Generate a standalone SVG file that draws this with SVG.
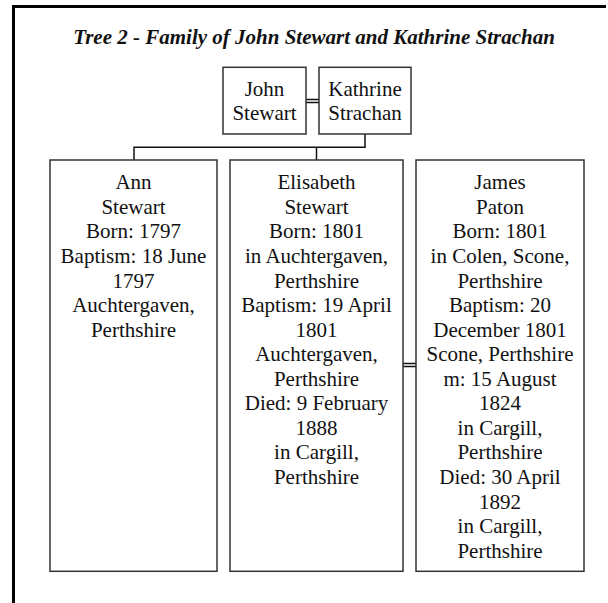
<svg xmlns="http://www.w3.org/2000/svg" width="608" height="603" viewBox="0 0 608 603">
<style>
.frame{fill:none;stroke:#000;stroke-width:3}
.box{fill:#fff;stroke:#333;stroke-width:1.5}
.ln{fill:none;stroke:#111;stroke-width:1.5}
.t{font-family:"Times New Roman",Times,Tinos,"Liberation Serif","Nimbus Roman","Nimbus Roman No9 L",FreeSerif,"Noto Serif","DejaVu Serif",serif;font-size:21px;fill:#111;text-anchor:middle}
.title{font-family:"Times New Roman",Times,Tinos,"Liberation Serif","Nimbus Roman","Nimbus Roman No9 L",FreeSerif,"Noto Serif","DejaVu Serif",serif;font-size:21px;font-weight:bold;font-style:italic;fill:#111;text-anchor:middle}
</style>
<rect width="608" height="603" fill="#fff"/>
<path class="frame" d="M13.5,603 V6.5 H606"/>
<text class="title" x="314" y="44">Tree 2 - Family of John Stewart and Kathrine Strachan</text>
<g id="connectors">
<path class="ln" d="M306,99.5 H319 M306,102.5 H319"/>
<path class="ln" d="M365,134 V147.3 H134 V160 M316.5,147.3 V160"/>
<path class="ln" d="M403,363.5 H416 M403,366.5 H416"/>
</g>
<g id="john">
<rect class="box" x="223" y="67.3" width="83" height="66.7"/>
<text class="t" x="264.5" y="96">John</text>
<text class="t" x="264.5" y="120">Stewart</text>
</g>
<g id="kathrine">
<rect class="box" x="319" y="67.3" width="92" height="66.7"/>
<text class="t" x="365" y="96">Kathrine</text>
<text class="t" x="365" y="120">Strachan</text>
</g>
<g id="ann">
<rect class="box" x="50" y="160" width="167" height="411.3"/>
<text class="t" x="133.5" y="189.3">Ann</text>
<text class="t" x="133.5" y="213.8">Stewart</text>
<text class="t" x="133.5" y="238.4">Born: 1797</text>
<text class="t" x="133.5" y="262.9">Baptism: 18 June</text>
<text class="t" x="133.5" y="287.5">1797</text>
<text class="t" x="133.5" y="312">Auchtergaven,</text>
<text class="t" x="133.5" y="336.6">Perthshire</text>
</g>
<g id="elisabeth">
<rect class="box" x="230" y="160" width="173" height="411.3"/>
<text class="t" x="316.5" y="189.3">Elisabeth</text>
<text class="t" x="316.5" y="213.8">Stewart</text>
<text class="t" x="316.5" y="238.4">Born: 1801</text>
<text class="t" x="316.5" y="262.9">in Auchtergaven,</text>
<text class="t" x="316.5" y="287.5">Perthshire</text>
<text class="t" x="316.5" y="312">Baptism: 19 April</text>
<text class="t" x="316.5" y="336.6">1801</text>
<text class="t" x="316.5" y="361.2">Auchtergaven,</text>
<text class="t" x="316.5" y="385.7">Perthshire</text>
<text class="t" x="316.5" y="410.3">Died: 9 February</text>
<text class="t" x="316.5" y="434.8">1888</text>
<text class="t" x="316.5" y="459.4">in Cargill,</text>
<text class="t" x="316.5" y="483.9">Perthshire</text>
</g>
<g id="james">
<rect class="box" x="416" y="160" width="168" height="411.3"/>
<text class="t" x="500" y="189.3">James</text>
<text class="t" x="500" y="213.8">Paton</text>
<text class="t" x="500" y="238.4">Born: 1801</text>
<text class="t" x="500" y="262.9">in Colen, Scone,</text>
<text class="t" x="500" y="287.5">Perthshire</text>
<text class="t" x="500" y="312">Baptism: 20</text>
<text class="t" x="500" y="336.6">December 1801</text>
<text class="t" x="500" y="361.2">Scone, Perthshire</text>
<text class="t" x="500" y="385.7">m: 15 August</text>
<text class="t" x="500" y="410.3">1824</text>
<text class="t" x="500" y="434.8">in Cargill,</text>
<text class="t" x="500" y="459.4">Perthshire</text>
<text class="t" x="500" y="483.9">Died: 30 April</text>
<text class="t" x="500" y="508.5">1892</text>
<text class="t" x="500" y="533">in Cargill,</text>
<text class="t" x="500" y="557.6">Perthshire</text>
</g>
</svg>
